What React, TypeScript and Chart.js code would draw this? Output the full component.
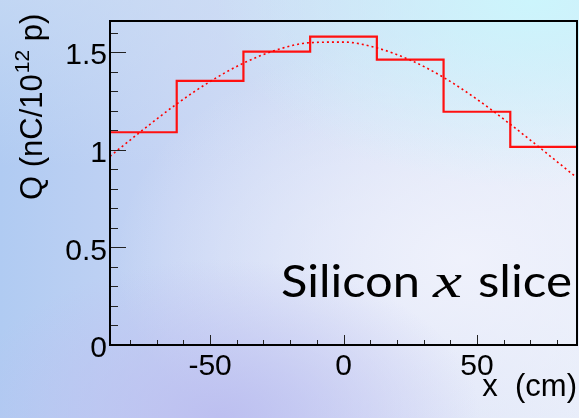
import React, { useEffect, useRef } from "react";
import { Chart, registerables } from "chart.js";

Chart.register(...registerables);

// Histogram: bin edges (cm) and charge per bin (nC / 10^12 p)
const binEdges = [-87.5, -62.5, -37.5, -12.5, 12.5, 37.5, 62.5, 87.5];
const binValues = [1.09, 1.353, 1.503, 1.58, 1.462, 1.195, 1.015];

// Fitted profile, sampled along x
const fitX = [-87.5, -75, -62.5, -50, -37.5, -25, -12.5, 0, 12.5, 25, 37.5, 50, 62.5, 75, 87.5];
const fitY = [0.967, 1.104, 1.235, 1.35, 1.444, 1.512, 1.549, 1.552, 1.522, 1.46, 1.371, 1.259, 1.131, 0.995, 0.856];

// Axis ticks and labels
const xTicks = [-80, -70, -60, -50, -40, -30, -20, -10, 0, 10, 20, 30, 40, 50, 60, 70, 80];
const xLabelValues = [-50, 0, 50];
const xLabels = ["-50", "0", "50"];
const yTicks = [0, 0.1, 0.2, 0.3, 0.4, 0.5, 0.6, 0.7, 0.8, 0.9, 1, 1.1, 1.2, 1.3, 1.4, 1.5, 1.6];
const yLabelValues = [0, 0.5, 1, 1.5];
const yLabels = ["0", "0.5", "1", "1.5"];

const X_MIN = -87.5;
const X_MAX = 87.5;
const Y_MIN = 0;
const Y_MAX = 1.66;

const SANS = "'Liberation Sans', Arial, sans-serif";

function labelFor(v: number, values: number[], labels: string[]) {
  const i = values.findIndex((t) => Math.abs(t - v) < 1e-6);
  return i >= 0 ? labels[i] : "";
}

// draws text squeezed/stretched horizontally to a given width
function fitText(ctx: CanvasRenderingContext2D, text: string, left: number, base: number, width: number) {
  const w = ctx.measureText(text).width;
  ctx.save();
  ctx.translate(left, base);
  ctx.scale(width / w, 1);
  ctx.textAlign = "left";
  ctx.fillText(text, 0, 0);
  ctx.restore();
}

const framePlugin = {
  id: "rootFrame",
  afterDatasetsDraw(chart: any) {
    const { ctx, chartArea: a, scales } = chart;
    const xs = scales.x;
    const ys = scales.y;
    ctx.save();
    // tick marks drawn inward
    ctx.strokeStyle = "#222";
    ctx.lineWidth = 1;
    for (const v of xTicks) {
      const px = Math.round(xs.getPixelForValue(v)) + 0.5;
      const major = xLabelValues.some((t) => Math.abs(t - v) < 1e-6);
      const len = major ? 10 : 5;
      ctx.beginPath();
      ctx.moveTo(px, a.bottom);
      ctx.lineTo(px, a.bottom - len);
      ctx.stroke();
    }
    for (const v of yTicks) {
      const py = Math.round(ys.getPixelForValue(v)) + 0.5;
      const major = yLabelValues.some((t) => Math.abs(t - v) < 1e-6);
      const len = major ? 16 : 8;
      ctx.beginPath();
      ctx.moveTo(a.left, py);
      ctx.lineTo(a.left + len, py);
      ctx.stroke();
    }
    // frame
    ctx.strokeStyle = "#000";
    ctx.lineWidth = 2;
    ctx.strokeRect(a.left, a.top, a.right - a.left, a.bottom - a.top);

    // annotation
    ctx.fillStyle = "#000";
    ctx.textBaseline = "alphabetic";
    ctx.font = "45px Lato, 'Open Sans', sans-serif";
    fitText(ctx, "Silicon", 281, 297, 139);
    fitText(ctx, "slice", 478, 297, 94);
    ctx.font = "italic 48px 'Liberation Serif', 'DejaVu Serif', serif";
    fitText(ctx, "x", 433, 297, 29);

    // x-axis title
    ctx.fillStyle = "#000";
    ctx.font = `31px ${SANS}`;
    ctx.textAlign = "right";
    ctx.fillText("x  (cm)", 577, 396);

    // y-axis title, rotated
    ctx.translate(42, 200);
    ctx.rotate(-Math.PI / 2);
    ctx.textAlign = "left";
    ctx.font = `31px ${SANS}`;
    const p1 = "Q (nC/10";
    ctx.fillText(p1, 0, 0);
    let w = ctx.measureText(p1).width + 1;
    ctx.font = `21px ${SANS}`;
    ctx.fillText("12", w, -13);
    w += ctx.measureText("12").width;
    ctx.font = `31px ${SANS}`;
    ctx.fillText(" p)", w, 0);
    ctx.restore();
  },
};

export default function App() {
  const ref = useRef<HTMLCanvasElement | null>(null);

  useEffect(() => {
    if (!ref.current) return;
    const histData = binEdges.map((e, i) => ({
      x: e,
      y: binValues[Math.min(i, binValues.length - 1)],
    }));
    const fitData = fitX.map((x, i) => ({ x, y: fitY[i] }));

    const chart = new Chart(ref.current, {
      type: "line",
      data: {
        datasets: [
          {
            data: fitData,
            borderColor: "#ff0000",
            borderWidth: 1.6,
            borderDash: [2, 3],
            pointRadius: 0,
            cubicInterpolationMode: "monotone",
            fill: false,
          },
          {
            data: histData,
            borderColor: "#ff1010",
            borderWidth: 2.2,
            stepped: true,
            pointRadius: 0,
            fill: false,
          },
        ],
      },
      options: {
        animation: false,
        responsive: false,
        devicePixelRatio: 1,
        layout: { padding: { top: 13, right: 2, left: 0, bottom: 0 } },
        plugins: { legend: { display: false }, tooltip: { enabled: false } },
        scales: {
          x: {
            type: "linear",
            min: X_MIN,
            max: X_MAX,
            grid: { display: false, drawTicks: false },
            border: { display: false },
            afterBuildTicks: (s: any) => {
              s.ticks = xTicks.map((v) => ({ value: v }));
            },
            afterFit: (s: any) => {
              s.height = 73;
            },
            ticks: {
              autoSkip: false,
              maxRotation: 0,
              padding: 4,
              color: "#000",
              font: { family: SANS, size: 30 },
              callback: (v: any) => labelFor(Number(v), xLabelValues, xLabels),
            },
          },
          y: {
            type: "linear",
            min: Y_MIN,
            max: Y_MAX,
            grid: { display: false, drawTicks: false },
            border: { display: false },
            afterBuildTicks: (s: any) => {
              s.ticks = yTicks.map((v) => ({ value: v }));
            },
            afterFit: (s: any) => {
              s.width = 110;
            },
            ticks: {
              autoSkip: false,
              padding: 3,
              labelOffset: 4,
              color: "#000",
              font: { family: SANS, size: 30 },
              callback: (v: any) => labelFor(Number(v), yLabelValues, yLabels),
            },
          },
        },
      },
      plugins: [framePlugin],
    });
    return () => chart.destroy();
  }, []);

  return (
    <div
      style={{
        position: "fixed",
        left: 0,
        top: 0,
        width: 579,
        height: 418,
        background: [
          "radial-gradient(ellipse 55% 45% at 92% 0%, rgba(204,245,252,1) 0%, rgba(204,245,252,0) 100%)",
          "radial-gradient(ellipse 45% 38% at 38% 100%, rgba(188,190,240,0.95) 0%, rgba(188,190,240,0) 100%)",
          "radial-gradient(ellipse 60% 55% at 80% 62%, rgba(240,242,252,0.95) 0%, rgba(240,242,252,0) 100%)",
          "linear-gradient(to bottom, rgba(205,222,244,0.6) 0%, rgba(205,222,244,0) 40%)",
          "linear-gradient(to right, #b0cbf2 0%, #c6d4f4 30%, #d8e0f6 65%, #e6ecf9 100%)",
        ].join(", "),
      }}
    >
      <canvas ref={ref} width={579} height={418} style={{ display: "block" }} />
    </div>
  );
}
